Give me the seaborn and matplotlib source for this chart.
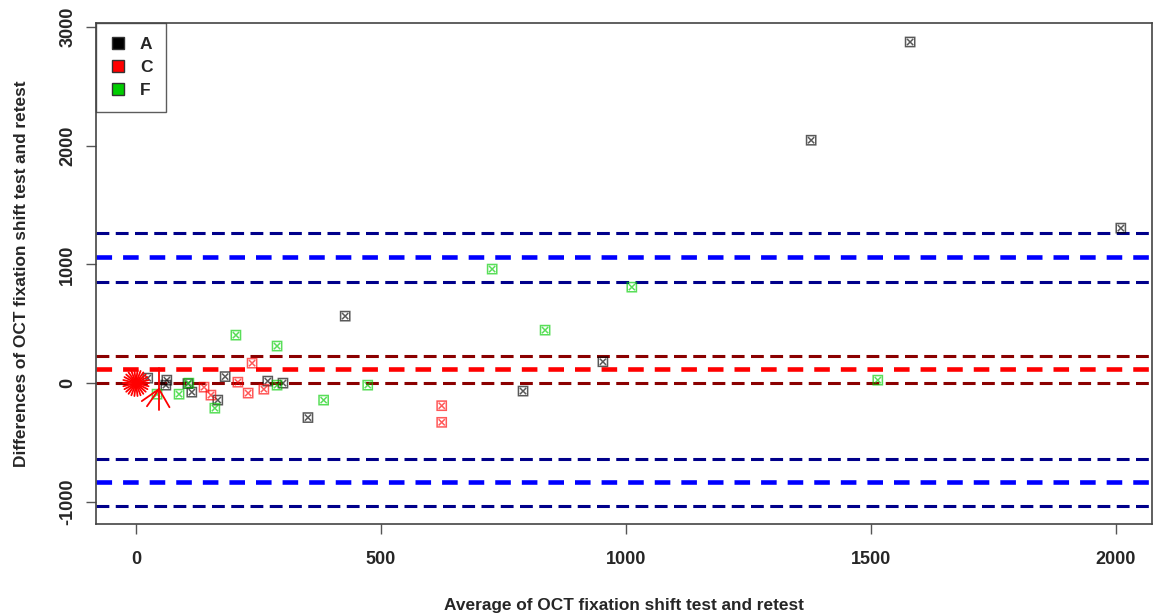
import numpy as np
import pandas as pd
import seaborn as sns
import matplotlib.pyplot as plt
from matplotlib.lines import Line2D

# group A (black)
a_x = [24, 63, 61, 106, 114, 167, 182, 269, 300, 351, 427, 790, 953, 1378, 1580, 2010]
a_y = [42, 25, -17, -4, -76, -143, 55, 17, 0, -290, 564, -67, 180, 2045, 2872, 1305]
# group C (red)
c_x = [139, 153, 208, 229, 237, 261, 624, 624]
c_y = [-34, -101, 8, -84, 168, -51, -190, -330]
# group F (green)
f_x = [43, 88, 108, 161, 204, 288, 288, 383, 473, 727, 835, 1012, 1514]
f_y = [-93, -93, 0, -211, 404, 312, -17, -143, -17, 960, 446, 808, 25]

# overlapping points drawn as sunflowers (red)
sun_x = [0, 47]
sun_y = [0, -50]

# Bland-Altman lines: bias and limits of agreement with their CIs
bias, bias_lo, bias_hi = 118, 3, 228
upper, upper_lo, upper_hi = 1062, 855, 1265
lower, lower_lo, lower_hi = -835, -1038, -640

groups = ["A", "C", "F"]
colors = {"A": "black", "C": "red", "F": "#00CD00"}

df = pd.DataFrame({
    "x": a_x + c_x + f_x,
    "y": a_y + c_y + f_y,
    "group": ["A"] * len(a_x) + ["C"] * len(c_x) + ["F"] * len(f_x),
})

sns.set_theme(style="white")
plt.rcParams['font.family'] = ['Liberation Sans', 'DejaVu Sans']
plt.rcParams['font.weight'] = 'bold'

fig = plt.figure(figsize=(11.54, 6.13), dpi=100)
ax = fig.add_axes([0.083, 0.145, 0.915, 0.8175])
ax.set_xlim(-82, 2073)
ax.set_ylim(-1187, 3032)

thick = dict(lw=3.3, linestyle=(0, (3.4, 2.4)))
thin = dict(lw=2.2, linestyle=(0, (4.2, 2.1)))
for v in [upper_hi, upper_lo, lower_lo, lower_hi]:
    ax.axhline(v, color="#00008B", **thin)
for v in [upper, lower]:
    ax.axhline(v, color="blue", **thick)
for v in [bias_lo, bias_hi]:
    ax.axhline(v, color="#8B0000", **thin)
ax.axhline(bias, color="red", **thick)

sns.scatterplot(data=df, x="x", y="y", hue="group", palette=colors,
                marker=r"$\boxtimes$", s=60, linewidth=0, alpha=0.65,
                legend=False, ax=ax, zorder=3)

# sunflower petals
fig.canvas.draw()
petals = [(np.linspace(0, 2 * np.pi, 26, endpoint=False), 13),
          (np.radians([90, 270, 215, 235, 300]), 21)]
for cx, cy, (angles, length) in zip(sun_x, sun_y, petals):
    px, py = ax.transData.transform((cx, cy))
    for t in angles:
        ex, ey = ax.transData.inverted().transform(
            (px + length * np.cos(t), py + length * np.sin(t)))
        ax.plot([cx, ex], [cy, ey], color="red", lw=1.3, zorder=4)

ax.set_xticks([0, 500, 1000, 1500, 2000])
ax.set_yticks([-1000, 0, 1000, 2000, 3000])
ax.set_yticklabels(["-1000", "0", "1000", "2000", "3000"], rotation=90, va="center")
ax.tick_params(axis="both", labelsize=13, length=7, width=1, color="#555555",
               direction="out", left=True, bottom=True)
ax.tick_params(axis="x", pad=12)
ax.tick_params(axis="y", pad=7)
for s in ax.spines.values():
    s.set_color("#444444")
    s.set_linewidth(1.2)

ax.set_xlabel("Average of OCT fixation shift test and retest", fontsize=12.4, fontweight="bold", labelpad=22)
ax.set_ylabel("Differences of OCT fixation shift test and retest", fontsize=12.4, fontweight="bold", labelpad=22)

handles = [Line2D([], [], marker="s", linestyle="none", markersize=9,
                  markerfacecolor=colors[g], markeredgecolor="#333333") for g in groups]
leg = ax.legend(handles, groups, loc="upper left", bbox_to_anchor=(0, 1), borderaxespad=0,
                fancybox=False, edgecolor="#333333", fontsize=12.5, handletextpad=0.75,
                borderpad=0.8, labelspacing=0.45, handlelength=1.0)
leg.get_frame().set_linewidth(1)

fig.savefig("out.png", dpi=100)
